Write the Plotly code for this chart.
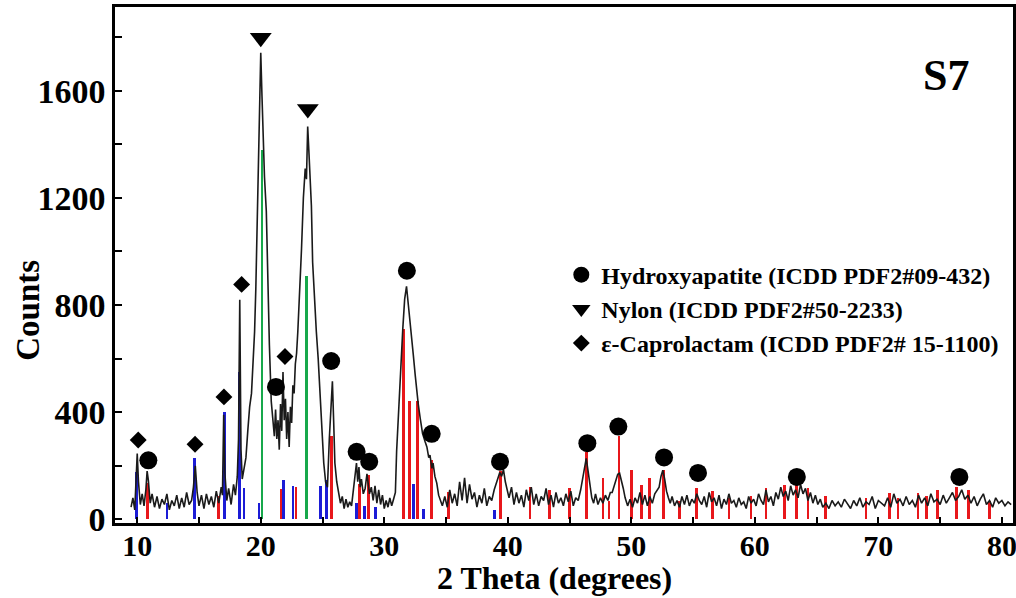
import plotly.graph_objects as go

# ---------------- measured pattern (2-theta, counts) ----------------
theta_a = [9.5, 9.65, 9.8, 9.9, 10.0, 10.1, 10.25, 10.4, 10.55, 10.7,
           10.8, 10.9, 11.05, 11.2, 11.4, 11.6, 11.8, 12.0, 12.2, 12.4,
           12.6, 12.8, 13.0, 13.2, 13.4, 13.6, 13.8, 14.0, 14.2, 14.4,
           14.55, 14.7, 14.85, 15.0, 15.2, 15.4, 15.6, 15.8, 16.0, 16.2,
           16.4, 16.6, 16.8, 16.9, 17.0, 17.1, 17.25, 17.4, 17.6, 17.8,
           17.95, 18.1, 18.2, 18.3, 18.4, 18.5]
counts_a = [45, 80, 35, 120, 245, 140, 55, 95, 50, 110,
            180, 145, 60, 95, 45, 85, 40, 75, 55, 95,
            35, 70, 50, 90, 40, 80, 45, 100, 55, 70,
            120, 200, 100, 50, 90, 40, 95, 55, 85, 45,
            105, 60, 120, 90, 390, 170, 70, 115, 55, 130,
            90, 160, 300, 820, 260, 150]

theta_b = [18.65, 18.8, 18.95, 19.1, 19.25, 19.4, 19.5, 19.6, 19.7, 19.8,
           19.9, 20.0, 20.1, 20.2, 20.3, 20.45, 20.55, 20.7, 20.85, 21.0,
           21.1, 21.2, 21.3, 21.4, 21.5, 21.6, 21.7, 21.8, 21.9, 22.0,
           22.1, 22.2, 22.3, 22.4, 22.5, 22.6]
counts_b = [190, 230, 330, 420, 470, 600, 700, 860, 1100, 1350,
            1600, 1742, 1580, 1420, 1280, 1150, 920, 650, 440, 360,
            310, 410, 300, 370, 260, 430, 330, 550, 370, 450,
            300, 400, 270, 420, 360, 500]

theta_c = [22.7, 22.8, 22.9, 23.0, 23.1, 23.2, 23.3, 23.45, 23.6, 23.7,
           23.8, 23.9, 24.0, 24.1, 24.2, 24.35, 24.5, 24.65, 24.8, 24.95,
           25.1, 25.25, 25.4, 25.55, 25.7, 25.8, 25.9, 26.0, 26.15, 26.3,
           26.45, 26.6]
counts_c = [470, 580, 620, 700, 790, 900, 1010, 1200, 1310, 1270,
            1467, 1370, 1250, 1170, 960, 820, 700, 600, 470, 340,
            210, 140, 120, 300, 420, 515, 370, 210, 140, 90,
            60, 85]

theta_d = [26.75, 26.9, 27.05, 27.2, 27.35, 27.5, 27.65, 27.75, 27.85, 27.95,
           28.05, 28.15, 28.3, 28.45, 28.6, 28.7, 28.8, 28.95, 29.1, 29.25,
           29.4, 29.55, 29.7, 29.85, 30.0, 30.15, 30.3, 30.45, 30.6, 30.75]
counts_d = [40, 75, 45, 65, 50, 110, 160, 210, 140, 195,
            120, 150, 95, 115, 170, 130, 95, 120, 70, 125,
            60, 110, 55, 90, 40, 70, 45, 80, 50, 75]

theta_e = [30.9, 31.0, 31.15, 31.27, 31.4, 31.5, 31.65, 31.8, 31.95, 32.1,
           32.25, 32.35, 32.5, 32.6, 32.75, 32.9, 33.1, 33.3, 33.45, 33.6,
           33.7, 33.85, 33.95, 34.1, 34.25, 34.4, 34.55]
counts_e = [100, 255, 400, 527, 640, 712, 822, 870, 800, 736,
            660, 614, 540, 491, 430, 380, 320, 290, 270, 230,
            240, 190, 210, 160, 135, 90, 70]

theta_f = [34.7, 34.9, 35.1, 35.3, 35.5, 35.7, 35.9, 36.1, 36.3, 36.5,
           36.7, 36.9, 37.1, 37.3, 37.5, 37.7, 37.9, 38.1, 38.3, 38.5,
           38.7, 38.9, 39.05, 39.2, 39.35, 39.5, 39.65, 39.8, 39.95, 40.1,
           40.3, 40.5, 40.7, 40.9, 41.1, 41.3, 41.5, 41.7, 41.9, 42.1,
           42.3, 42.5, 42.7, 42.9, 43.1, 43.3, 43.5, 43.7, 43.9, 44.1,
           44.3, 44.5, 44.7, 44.9, 45.1, 45.3, 45.5, 45.7]
counts_f = [50, 85, 45, 110, 60, 95, 50, 140, 70, 155,
            60, 130, 75, 100, 45, 90, 60, 115, 50, 85,
            70, 110, 130, 150, 175, 160, 185, 140, 110, 80,
            120, 55, 100, 60, 90, 45, 110, 70, 120, 55,
            95, 50, 85, 70, 115, 55, 90, 45, 100, 60,
            80, 50, 95, 65, 105, 50, 80, 70]

theta_g = [45.9, 46.05, 46.2, 46.35, 46.5, 46.65, 46.8, 46.95, 47.1, 47.3,
           47.5, 47.7, 47.9, 48.1, 48.3, 48.45, 48.6, 48.75, 48.9, 49.05,
           49.2, 49.35, 49.5, 49.7, 49.9, 50.1, 50.3, 50.5, 50.7, 50.9,
           51.1, 51.3, 51.5, 51.7, 51.9, 52.1, 52.25, 52.4, 52.55, 52.7,
           52.85, 53.0, 53.15, 53.3, 53.5]
counts_g = [110, 150, 200, 227, 180, 120, 80, 60, 95, 55,
            80, 60, 90, 70, 100, 100, 125, 150, 168, 172,
            145, 115, 80, 50, 75, 45, 80, 60, 100, 55,
            90, 50, 85, 60, 95, 110, 120, 160, 183, 150,
            105, 80, 60, 85, 50]

theta_h = [53.7, 53.9, 54.1, 54.3, 54.5, 54.7, 54.9, 55.1, 55.3, 55.5,
           55.7, 55.9, 56.1, 56.3, 56.5, 56.7, 56.9, 57.1, 57.3, 57.5,
           57.7, 57.9, 58.1, 58.3, 58.5, 58.7, 58.9, 59.1, 59.3, 59.5,
           59.7, 59.9, 60.1, 60.3, 60.5, 60.7, 60.9, 61.1, 61.3, 61.5,
           61.7, 61.9, 62.1, 62.3, 62.5, 62.7, 62.9, 63.1, 63.3, 63.5,
           63.7, 63.9, 64.1, 64.3, 64.5, 64.7, 64.9, 65.1, 65.3, 65.5]
counts_h = [70, 45, 85, 55, 90, 50, 75, 60, 95, 70,
            55, 85, 45, 100, 65, 80, 50, 90, 40, 75,
            55, 95, 60, 70, 45, 80, 55, 65, 40, 85,
            60, 75, 50, 95, 70, 55, 110, 65, 85, 50,
            100, 75, 120, 85, 105, 70, 125, 90, 110, 80,
            130, 95, 115, 70, 100, 60, 90, 55, 75, 45]

theta_i = [65.75, 66.0, 66.25, 66.5, 66.75, 67.0, 67.25, 67.5, 67.75, 68.0,
           68.25, 68.5, 68.75, 69.0, 69.25, 69.5, 69.75, 70.0, 70.25, 70.5,
           70.75, 71.0, 71.25, 71.5, 71.75, 72.0, 72.25, 72.5, 72.75, 73.0,
           73.25, 73.5, 73.75, 74.0, 74.25, 74.5, 74.75, 75.0, 75.25, 75.5,
           75.75, 76.0, 76.25, 76.5, 76.75, 77.0, 77.25, 77.5, 77.75, 78.0,
           78.25, 78.5, 78.75, 79.0, 79.25, 79.5, 79.75, 80.0, 80.25, 80.5,
           80.75]
counts_i = [60, 40, 70, 50, 65, 45, 75, 55, 40, 70,
            50, 80, 45, 65, 55, 85, 40, 70, 60, 50,
            80, 45, 95, 60, 75, 50, 85, 55, 70, 45,
            90, 60, 80, 50, 95, 65, 75, 55, 90, 60,
            80, 100, 70, 85, 110, 75, 90, 60, 85, 50,
            75, 95, 55, 70, 45, 80, 60, 70, 50, 65,
            55]

# ---------------- reference patterns (stick positions / intensities) ----------------
ha_theta = [10.85, 16.6, 21.7, 22.85, 25.72, 28.0, 28.7, 31.55, 32.05, 32.7,
            33.85, 35.2, 39.4, 41.8, 43.4, 45.0, 46.35, 47.7, 48.2, 49.0,
            50.0, 50.8, 51.5, 52.6, 53.9, 55.3, 56.6, 57.9, 59.7, 60.9,
            62.4, 63.4, 64.3, 65.7, 69.0, 70.9, 71.6, 73.2, 73.9, 74.8,
            76.3, 77.3, 79.0]
ha_int = [135, 85, 112, 120, 310, 130, 165, 712, 440, 440,
          220, 100, 180, 120, 110, 115, 252, 155, 70, 310,
          183, 128, 153, 183, 70, 117, 105, 80, 85, 117,
          128, 135, 115, 85, 80, 98, 80, 98, 85, 110,
          122, 110, 70]

nylon_theta = [20.1, 23.7]
nylon_int = [1378, 907]

capro_theta = [9.95, 12.4, 14.65, 17.05, 18.3, 18.65, 19.85, 21.85, 22.6, 24.85,
               25.3, 27.75, 28.4, 29.3, 32.35, 33.2, 38.9]
capro_int = [175, 60, 227, 400, 550, 115, 60, 145, 125, 123,
             145, 60, 50, 45, 130, 40, 35]

# ---------------- phase identification markers ----------------
ha_mark_theta = [10.9, 21.23, 25.7, 27.76, 28.78, 31.83, 33.84, 39.37, 46.44, 48.95,
                 52.65, 55.4, 63.4, 76.56]
ha_mark_y = [220, 494, 591, 252, 215, 928, 319, 215, 284, 346,
             231, 173, 158, 158]
nylon_mark_theta = [20.0, 23.81]
nylon_mark_y = [1798, 1532]
capro_mark_theta = [10.08, 14.68, 17.02, 18.45, 21.96]
capro_mark_y = [296, 280, 457, 877, 608]

theta = theta_a + theta_b + theta_c + theta_d + theta_e + theta_f + theta_g + theta_h + theta_i
counts = counts_a + counts_b + counts_c + counts_d + counts_e + counts_f + counts_g + counts_h + counts_i
assert len(theta) == len(counts)
assert len(ha_theta) == len(ha_int)
assert len(capro_theta) == len(capro_int)
assert len(ha_mark_theta) == len(ha_mark_y)

FONT = "Liberation Serif, Times New Roman, serif"
RED = "#e8171b"
GREEN = "#17a84b"
BLUE = "#1c1cd6"

fig = go.Figure()
fig.add_trace(go.Bar(x=ha_theta, y=ha_int, width=0.22, marker=dict(color=RED, line_width=0),
                     showlegend=False, hoverinfo="skip"))
fig.add_trace(go.Bar(x=nylon_theta, y=nylon_int, width=0.22, marker=dict(color=GREEN, line_width=0),
                     showlegend=False, hoverinfo="skip"))
fig.add_trace(go.Bar(x=capro_theta, y=capro_int, width=0.22, marker=dict(color=BLUE, line_width=0),
                     showlegend=False, hoverinfo="skip"))
fig.add_trace(go.Scatter(x=theta, y=counts, mode="lines", line=dict(color="#1a1a1a", width=1.6),
                         showlegend=False))
fig.add_trace(go.Scatter(x=ha_mark_theta, y=ha_mark_y, mode="markers",
                         marker=dict(symbol="circle", size=18, color="black"),
                         name="Hydroxyapatite (ICDD PDF2#09-432)"))
fig.add_trace(go.Scatter(x=nylon_mark_theta, y=nylon_mark_y, mode="markers",
                         marker=dict(symbol="triangle-down", size=19, color="black"),
                         name="Nylon (ICDD PDF2#50-2233)"))
fig.add_trace(go.Scatter(x=capro_mark_theta, y=capro_mark_y, mode="markers",
                         marker=dict(symbol="diamond", size=13, color="black"),
                         name="\u03b5-Caprolactam (ICDD PDF2# 15-1100)"))

axis_common = dict(showline=True, linecolor="black", linewidth=2.5, mirror=True,
                   ticks="inside", tickcolor="black", showgrid=False, zeroline=False)

fig.update_xaxes(range=[8.2, 80.9], tickvals=[10, 20, 30, 40, 50, 60, 70, 80],
                 ticklen=6, tickwidth=1.5, ticklabelstandoff=-6, ticklabeloverflow="allow",
                 tickfont=dict(family=FONT, size=30, color="black", weight="bold"),
                 minor=dict(tickvals=[15, 25, 35, 45, 55, 65, 75], ticklen=6, tickwidth=1.5,
                            ticks="inside", tickcolor="black"),
                 **axis_common)
fig.update_yaxes(range=[-14, 1913], tickvals=[0, 400, 800, 1200, 1600],
                 ticklen=7, tickwidth=1.5,
                 tickfont=dict(family=FONT, size=34, color="black", weight="bold"),
                 minor=dict(tickvals=[200, 600, 1000, 1400, 1800], ticklen=7, tickwidth=1.5,
                            ticks="inside", tickcolor="black"),
                 **axis_common)

# axis titles
fig.add_annotation(text="2 Theta (degrees)", xref="paper", yref="paper", x=0.489, y=-0.1066,
                   xanchor="center", yanchor="middle", showarrow=False,
                   font=dict(family=FONT, size=32, color="black", weight="bold"))
fig.add_annotation(text="Counts", xref="paper", yref="paper", x=-0.097, y=0.413,
                   xanchor="center", yanchor="middle", showarrow=False, textangle=-90,
                   font=dict(family=FONT, size=33, color="black", weight="bold"))

fig.add_annotation(text="S7", xref="paper", yref="paper", x=0.925, y=0.868,
                   xanchor="center", yanchor="middle",
                   showarrow=False, font=dict(family=FONT, size=44, color="black", weight="bold"))

fig.update_layout(
    width=1016, height=598,
    margin=dict(l=115, r=3, t=7, b=75, autoexpand=False),
    plot_bgcolor="white", paper_bgcolor="white",
    barmode="overlay", bargap=0,
    legend=dict(x=0.497, y=0.524, xanchor="left", yanchor="top",
                bgcolor="rgba(0,0,0,0)", borderwidth=0,
                font=dict(family=FONT, size=24, color="black", weight="bold"),
                tracegroupgap=0, itemsizing="trace"),
)

fig.write_html("out.html")
